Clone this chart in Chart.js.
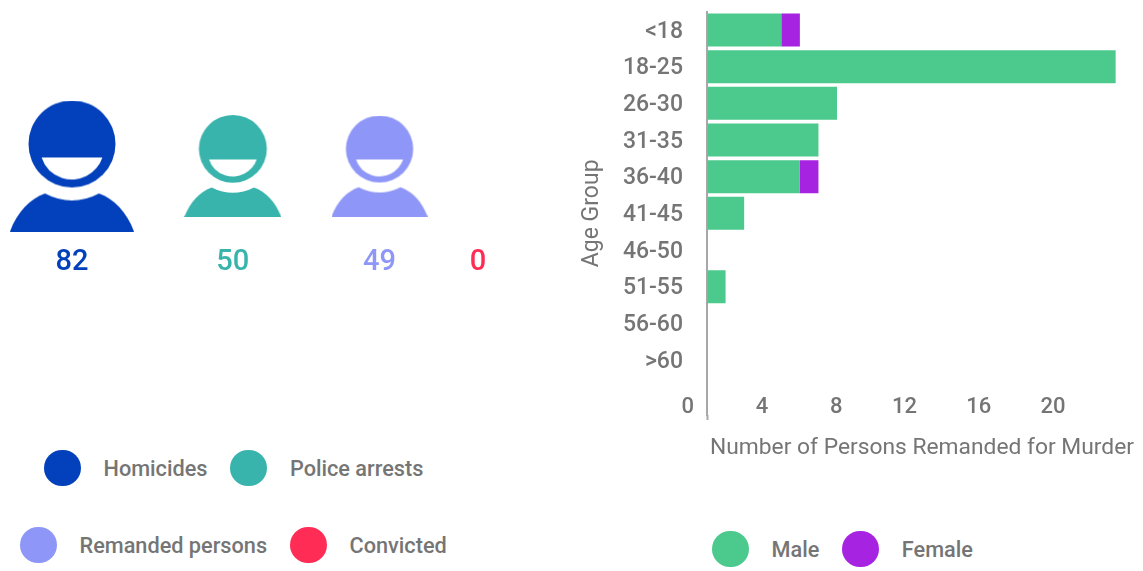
<!DOCTYPE html>
<html>
<head>
<meta charset="utf-8">
<title>Persons remanded for murder</title>
<script src="https://cdn.jsdelivr.net/npm/chart.js@4"></script>
<style>
    html, body { margin: 0; padding: 0; background: #fff; }
    body { position: relative; width: 1143px; height: 571px; overflow: hidden; font-family: Roboto, sans-serif; color: #757575; }
    .chart-box { position: absolute; }
    .legend-row { position: absolute; display: flex; align-items: center; gap: 23px; font-size: 21.7px; font-weight: 500; height: 38px; white-space: nowrap; }
    .dot { width: 36.5px; height: 36.5px; border-radius: 50%; flex: none; }
</style>
</head>
<body>
<div class="chart-box" style="left:0;top:0;width:500px;height:332px"><canvas id="people-chart"></canvas></div>
<div class="chart-box" style="left:570px;top:0;width:573px;height:462px"><canvas id="age-chart"></canvas></div>
<div class="legend-row" id="legend-a" style="left:44px;top:449px"></div>
<div class="legend-row" id="legend-b" style="left:20px;top:526px"></div>
<div class="legend-row" id="legend-c" style="left:712px;top:530px"></div>

<script>
// Case counts
const stages = ['Homicides', 'Police arrests', 'Remanded persons', 'Convicted'];
const stageCounts = [82, 50, 49, 0];
const stageColors = ['#0340BB', '#39B4AC', '#8E96F7', '#FF2D55'];

// Remanded persons by age group
const ageGroups = ['<18', '18-25', '26-30', '31-35', '36-40', '41-45', '46-50', '51-55', '56-60', '>60'];
const maleCounts = [4, 22, 7, 6, 5, 2, 0, 1, 0, 0];
const femaleCounts = [1, 0, 0, 0, 1, 0, 0, 0, 0, 0];
const sexColors = { Male: '#4CC98C', Female: '#A723E2' };

const GREY = '#757575';
const ICON_SCALE = 124 / Math.sqrt(82); // icon area follows the count
const ICON_GAP = 50.4;

Chart.defaults.font.family = 'Roboto, sans-serif';
Chart.defaults.color = GREY;

// Person pictogram drawn in a 124x131 box
function personIcon(count, color) {
    const w = ICON_SCALE * Math.sqrt(count);
    const c = document.createElement('canvas');
    c.width = Math.round(w);
    c.height = Math.round(w * 131 / 124);
    const ctx = c.getContext('2d');
    ctx.scale(c.width / 124, c.height / 131);
    ctx.fillStyle = color;

    ctx.beginPath();
    ctx.arc(62, 43.5, 43.5, 0, Math.PI * 2);
    ctx.fill();

    // smile
    ctx.globalCompositeOperation = 'destination-out';
    ctx.beginPath();
    ctx.arc(62, 47, 32, Math.asin(10 / 32), Math.PI - Math.asin(10 / 32));
    ctx.closePath();
    ctx.fill();
    ctx.globalCompositeOperation = 'source-over';

    // shoulders
    ctx.beginPath();
    ctx.moveTo(0, 131);
    ctx.bezierCurveTo(7, 112, 20, 98, 35, 93);
    ctx.quadraticCurveTo(62, 107, 89, 93);
    ctx.bezierCurveTo(104, 98, 117, 112, 124, 131);
    ctx.closePath();
    ctx.fill();
    return c;
}

// Icons sit side by side, each one as wide as its count makes it
function flowCenters(counts) {
    let x = 10;
    return counts.map(n => {
        const w = ICON_SCALE * Math.sqrt(n);
        const center = x + w / 2;
        x += w + ICON_GAP;
        return center;
    });
}

const countLabels = {
    id: 'countLabels',
    afterDatasetsDraw(chart) {
        const { ctx } = chart;
        const meta = chart.getDatasetMeta(0);
        ctx.save();
        ctx.font = '500 29px Roboto, sans-serif';
        ctx.textAlign = 'center';
        ctx.textBaseline = 'middle';
        meta.data.forEach((pt, i) => {
            ctx.fillStyle = stageColors[i];
            ctx.fillText(String(stageCounts[i]), pt.x, 263);
        });
        ctx.restore();
    },
};

const centers = flowCenters(stageCounts);

new Chart(document.getElementById('people-chart'), {
    type: 'scatter',
    data: {
        datasets: [{
            data: stageCounts.map((n, i) => ({ x: centers[i], y: 0 })),
            pointStyle: stageCounts.map((n, i) => (n > 0 ? personIcon(n, stageColors[i]) : false)),
            pointRadius: stageCounts.map(n => (n > 0 ? 10 : 0)),
            clip: false,
        }],
    },
    options: {
        responsive: true,
        maintainAspectRatio: false,
        animation: false,
        layout: { padding: 0, autoPadding: false },
        plugins: { legend: { display: false }, tooltip: { enabled: false } },
        scales: {
            x: { type: 'linear', display: false, min: 0, max: 500 },
            y: { type: 'linear', display: false, min: -1, max: 1 },
        },
    },
    plugins: [countLabels],
});

new Chart(document.getElementById('age-chart'), {
    type: 'bar',
    data: {
        labels: [...ageGroups, ''], // blank row holds the x tick labels
        datasets: [
            { label: 'Male', data: maleCounts, backgroundColor: sexColors.Male, barPercentage: 0.9, categoryPercentage: 1 },
            { label: 'Female', data: femaleCounts, backgroundColor: sexColors.Female, barPercentage: 0.9, categoryPercentage: 1 },
        ],
    },
    options: {
        indexAxis: 'y',
        responsive: true,
        maintainAspectRatio: false,
        animation: false,
        layout: { padding: { top: 11.67, right: 6 }, autoPadding: false },
        plugins: { legend: { display: false }, tooltip: { enabled: false } },
        scales: {
            x: {
                stacked: true,
                min: 0,
                max: 23.15,
                afterFit: s => { s.height = 47; },
                grid: {
                    display: true,
                    drawOnChartArea: false,
                    tickLength: 5,
                    tickWidth: 2,
                    tickColor: ctx => (ctx.tick && ctx.tick.value === 0 ? '#A8A8A8' : 'transparent'),
                },
                border: { display: false },
                ticks: {
                    stepSize: 4,
                    includeBounds: false,
                    maxRotation: 0,
                    autoSkip: false,
                    align: 'end',
                    labelOffset: -13,
                    mirror: true, // labels sit inside the plot, over the blank row
                    padding: -6,
                    color: GREY,
                    font: { size: 22, weight: '500' },
                },
                title: {
                    display: true,
                    text: 'Number of Persons Remanded for Murder',
                    color: GREY,
                    font: { size: 22.8 },
                    padding: { top: 14, bottom: 0 },
                },
            },
            y: {
                stacked: true,
                // tick padding would otherwise push the plot top down as well
                afterFit: s => { s.width = 137; s.paddingTop = 0; s.paddingBottom = 0; },
                grid: { display: false, drawTicks: false },
                border: { display: true, color: '#A8A8A8', width: 2 },
                ticks: { color: GREY, padding: 24, labelOffset: 2, autoSkip: false, font: { size: 23, weight: '500' } },
                title: {
                    display: true,
                    text: 'Age Group',
                    color: GREY,
                    font: { size: 23 },
                    padding: { top: 8, bottom: 0 },
                },
            },
        },
    },
});

// Legends need far more line spacing than the built-in one allows
function fillLegend(id, items) {
    document.getElementById(id).innerHTML = items.map(([text, color]) =>
        `<span class="dot" style="background:${color}"></span><span>${text}</span>`).join('');
}
fillLegend('legend-a', [[stages[0], stageColors[0]], [stages[1], stageColors[1]]]);
fillLegend('legend-b', [[stages[2], stageColors[2]], [stages[3], stageColors[3]]]);
fillLegend('legend-c', Object.entries(sexColors));
</script>
</body>
</html>
